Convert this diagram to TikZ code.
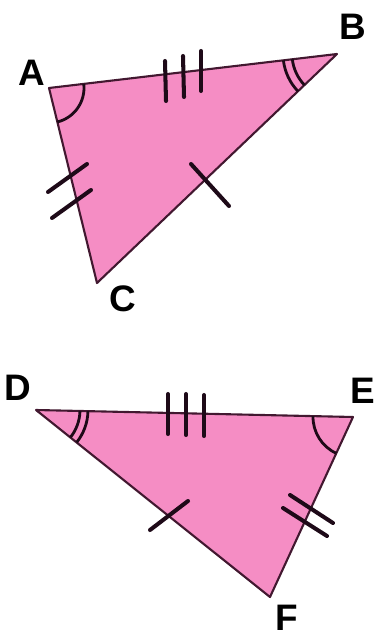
\documentclass[tikz,border=0pt]{standalone}
\usepackage{fontspec}
\setmainfont{Liberation Sans}
\usepackage{tikz}
\usetikzlibrary{angles}
\definecolor{trpink}{RGB}{245,141,196}
\definecolor{trline}{RGB}{66,24,48}
\definecolor{trmark}{RGB}{30,10,24}
\tikzset{
  tri/.style={draw=trline, fill=trpink, line width=1.2pt, line join=round},
  tickmark/.style={draw=trmark, line width=2.3pt, line cap=round},
  anglemark/.style={draw=trmark, line width=1.6pt},
  vlabel/.style={font=\fontsize{21}{24}\selectfont\bfseries, text=black, inner sep=0pt}
}
\begin{document}
\begin{tikzpicture}[x=0.02cm, y=-0.02cm]
  \useasboundingbox (0,0) rectangle (376,638);
  \coordinate (A) at (49,88);
  \coordinate (B) at (337,54);
  \coordinate (C) at (97,283);
  \coordinate (D) at (36,410);
  \coordinate (E) at (353,417);
  \coordinate (F) at (270,597);
  \draw[tri] (A) -- (B) -- (C) -- cycle;
  \draw[tri] (D) -- (E) -- (F) -- cycle;
  \node[vlabel] (lA) at (32,73) {A};
  \node[vlabel] (lB) at (353,27) {B};
  \node[vlabel] (lC) at (123,299) {C};
  \node[vlabel] (lD) at (18,388) {D};
  \node[vlabel] (lE) at (363,391) {E};
  \node[vlabel] (lF) at (287,618) {F};
  \pic[anglemark, angle radius=0.7cm] {angle = C--A--B};
  \pic[anglemark, angle radius=0.9cm] {angle = A--B--C};
  \pic[anglemark, angle radius=1.08cm] {angle = A--B--C};
  \pic[anglemark, angle radius=0.88cm] {angle = F--D--E};
  \pic[anglemark, angle radius=1.04cm] {angle = F--D--E};
  \pic[anglemark, angle radius=0.8cm] {angle = D--E--F};
  \draw[tickmark] (165,61) -- (166,101);
  \draw[tickmark] (183,56) -- (184,97);
  \draw[tickmark] (201,51) -- (201,91);
  \draw[tickmark] (48,192) -- (87,164);
  \draw[tickmark] (52,218) -- (91,190);
  \draw[tickmark] (191,164) -- (229,206);
  \draw[tickmark] (168,394) -- (168,434);
  \draw[tickmark] (186,394) -- (186,435);
  \draw[tickmark] (204,395) -- (204,436);
  \draw[tickmark] (150,530) -- (188,501);
  \draw[tickmark] (290,495) -- (333,523);
  \draw[tickmark] (283,508) -- (327,536);
\end{tikzpicture}
\end{document}
